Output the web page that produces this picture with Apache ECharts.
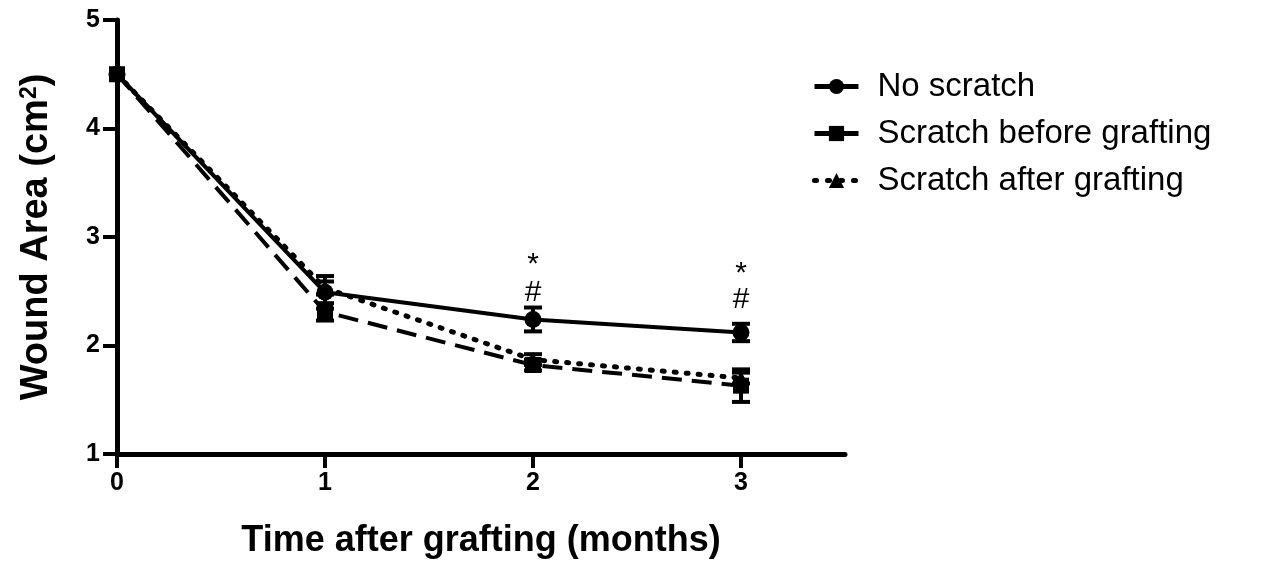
<!DOCTYPE html>
<html>
<head>
<meta charset="utf-8">
<script src="https://cdn.jsdelivr.net/npm/echarts@6/dist/echarts.min.js"></script>
<style>html,body{margin:0;padding:0;background:#fff}#c{width:1274px;height:562px}</style>
</head>
<body>
<div id="c"></div>
<script>
const months = [0, 1, 2, 3];
const seriesNames = ['No scratch', 'Scratch before grafting', 'Scratch after grafting'];
const noScratch = [4.5, 2.49, 2.24, 2.12];
const noScratchErr = [0, 0.15, 0.11, 0.08];
const scratchBefore = [4.5, 2.31, 1.82, 1.63];
const scratchBeforeErr = [0, 0.08, 0.05, 0.15];
const scratchAfter = [4.5, 2.53, 1.87, 1.70];
const scratchAfterErr = [0, 0.06, 0.05, 0.05];
const annotX = [2, 2, 3, 3];
const annotY = [2.74, 2.49, 2.66, 2.42];
const annotText = ['*', '#', '*', '#'];
const yTicks = [1, 2, 3, 4, 5];
const xTicks = [0, 1, 2, 3];

const FONT = 'Liberation Sans, Arial, sans-serif';
const chart = echarts.init(document.getElementById('c'));

function pairs(vals) { return months.map((m, i) => [m, vals[i]]); }
function errData(vals, errs) {
  return months.map((m, i) => [m, vals[i] - errs[i], vals[i] + errs[i]]).filter((d, i) => errs[i] > 0);
}
function errSeries(vals, errs) {
  return {
    type: 'custom',
    silent: true,
    z: 3,
    data: errData(vals, errs),
    renderItem: function (params, api) {
      const lo = api.coord([api.value(0), api.value(1)]);
      const hi = api.coord([api.value(0), api.value(2)]);
      const w = 9;
      const st = { stroke: '#000', lineWidth: 4 };
      return {
        type: 'group',
        children: [
          { type: 'line', shape: { x1: lo[0], y1: lo[1], x2: hi[0], y2: hi[1] }, style: st },
          { type: 'line', shape: { x1: lo[0] - w, y1: lo[1], x2: lo[0] + w, y2: lo[1] }, style: st },
          { type: 'line', shape: { x1: hi[0] - w, y1: hi[1], x2: hi[0] + w, y2: hi[1] }, style: st }
        ]
      };
    }
  };
}

const option = {
  animation: false,
  backgroundColor: '#fff',
  grid: { left: 117, top: 20, width: 728, height: 434, containLabel: false, outerBoundsMode: 'none' },
  legend: {
    data: [
      { name: seriesNames[0], lineStyle: { width: 5, type: 'solid' } },
      { name: seriesNames[1], lineStyle: { width: 5, type: 'solid' } },
      { name: seriesNames[2], lineStyle: { width: 5, type: [2, 11], cap: 'round' } }
    ],
    orient: 'vertical',
    left: 807,
    top: 65,
    itemWidth: 44,
    itemHeight: 19,
    itemGap: 14,
    textStyle: { fontFamily: FONT, fontSize: 33, color: '#000', padding: [0, 0, 0, 14] }
  },
  xAxis: {
    type: 'value',
    min: 0, max: 3.5, interval: 1,
    name: 'Time after grafting (months)',
    nameLocation: 'middle',
    nameGap: 69,
    nameTextStyle: { fontFamily: FONT, fontSize: 36, fontWeight: 'bold', color: '#000' },
    axisLine: { show: true, onZero: false, lineStyle: { color: '#000', width: 5 } },
    axisTick: { show: true, length: 14, lineStyle: { color: '#000', width: 4 }, customValues: xTicks },
    axisLabel: { margin: 17, fontFamily: FONT, fontSize: 25, fontWeight: 'bold', color: '#000', customValues: xTicks },
    splitLine: { show: false }
  },
  yAxis: {
    type: 'value',
    min: 1, max: 5, interval: 1,
    name: '{a|Wound Area (cm}{s|2}{a|)}',
    nameLocation: 'middle',
    nameGap: 61,
    nameRotate: 90,
    nameTextStyle: {
      rich: {
        a: { fontFamily: FONT, fontSize: 38, fontWeight: 'bold', color: '#000' },
        s: { fontFamily: FONT, fontSize: 23, fontWeight: 'bold', color: '#000', verticalAlign: 'top', padding: [0, 0, 14, 0] }
      }
    },
    axisLine: { show: true, onZero: false, lineStyle: { color: '#000', width: 5 } },
    axisTick: { show: true, length: 14, lineStyle: { color: '#000', width: 4 } },
    axisLabel: { margin: 17, fontFamily: FONT, fontSize: 25, fontWeight: 'bold', color: '#000' },
    splitLine: { show: false }
  },
  series: [
    errSeries(noScratch, noScratchErr),
    errSeries(scratchBefore, scratchBeforeErr),
    errSeries(scratchAfter, scratchAfterErr),
    {
      name: seriesNames[0], type: 'line', data: pairs(noScratch), z: 4,
      symbol: 'circle', symbolSize: 17, showAllSymbol: true,
      itemStyle: { color: '#000' },
      lineStyle: { color: '#000', width: 4, type: 'solid' }
    },
    {
      name: seriesNames[1], type: 'line', data: pairs(scratchBefore), z: 4,
      symbol: 'rect', symbolSize: 16,
      itemStyle: { color: '#000' },
      lineStyle: { color: '#000', width: 4, type: [20, 10] }
    },
    {
      name: seriesNames[2], type: 'line', data: pairs(scratchAfter), z: 4,
      symbol: 'triangle', symbolSize: 15,
      itemStyle: { color: '#000' },
      lineStyle: { color: '#000', width: 5, type: [2, 10], cap: 'round' }
    },
    {
      type: 'scatter', silent: true, z: 5,
      symbolSize: 1,
      itemStyle: { opacity: 0 },
      data: annotX.map((x, i) => ({ value: [x, annotY[i]], label: { formatter: annotText[i] } })),
      label: { show: true, position: 'inside', fontFamily: FONT, fontSize: 30, color: '#000', opacity: 1 }
    }
  ]
};
chart.setOption(option);
</script>
</body>
</html>
